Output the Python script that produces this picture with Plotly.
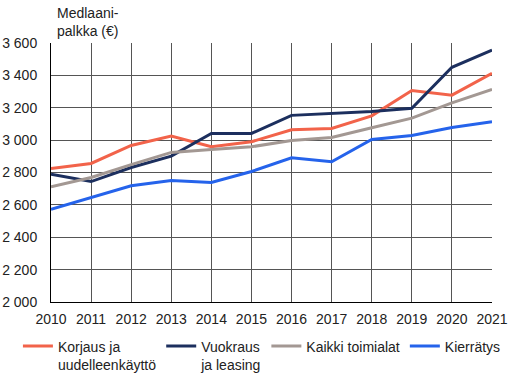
import plotly.graph_objects as go

years = list(range(2010, 2022))
korjaus = [2825, 2856, 2967, 3025, 2959, 2990, 3064, 3072, 3150, 3307, 3278, 3413]
vuokraus = [2790, 2744, 2831, 2901, 3041, 3041, 3153, 3165, 3177, 3197, 3450, 3556]
kaikki = [2711, 2769, 2849, 2924, 2942, 2959, 2998, 3016, 3076, 3136, 3230, 3314]
kierratys = [2573, 2645, 2718, 2750, 2738, 2806, 2891, 2866, 3004, 3029, 3078, 3113]

names = ["Korjaus ja<br>uudelleenkäyttö", "Vuokraus<br>ja leasing", "Kaikki toimialat", "Kierrätys"]
colors = ["#F2634A", "#1C2F5E", "#A39893", "#2563EB"]
series = [korjaus, vuokraus, kaikki, kierratys]

fig = go.Figure()
for n, c, s in zip(names, colors, series):
    fig.add_trace(go.Scatter(x=years, y=s, mode="lines", name=n,
                             line=dict(color=c, width=3)))

font = dict(family="Liberation Sans, Arial, sans-serif", size=14, color="#222222")
fig.update_layout(
    width=529, height=379,
    margin=dict(l=51, r=37, t=43, b=77, autoexpand=False),
    paper_bgcolor="white", plot_bgcolor="white",
    font=font,
    separators=", ",
    showlegend=True,
    legend=dict(orientation="h", x=-0.075, xanchor="left", y=-0.11, yanchor="top",
                font=font, itemwidth=30, tracegroupgap=0, traceorder="normal",
                valign="top", bgcolor="rgba(0,0,0,0)"),
    annotations=[dict(text="Medlaani-<br>palkka (€)", xref="paper", yref="paper",
                      x=0.01, y=1.006, xanchor="left", yanchor="bottom",
                      align="left", showarrow=False, font=font)],
)
fig.update_xaxes(range=[2010, 2021], tickvals=years, showgrid=True, gridcolor="#555555",
                 gridwidth=1, showline=True, linecolor="#000000", linewidth=1,
                 ticks="", mirror=False, zeroline=False, automargin=False,
                 ticklabelstandoff=4)
fig.update_yaxes(range=[2000, 3600], dtick=200, tickformat=",d", showgrid=True,
                 gridcolor="#555555", gridwidth=1, showline=True, linecolor="#000000",
                 linewidth=1, ticks="", zeroline=False, ticklabelstandoff=10,
                 automargin=False)
fig.write_html("out.html", config={"displayModeBar": False},
               post_script="document.body.style.margin='0';")
